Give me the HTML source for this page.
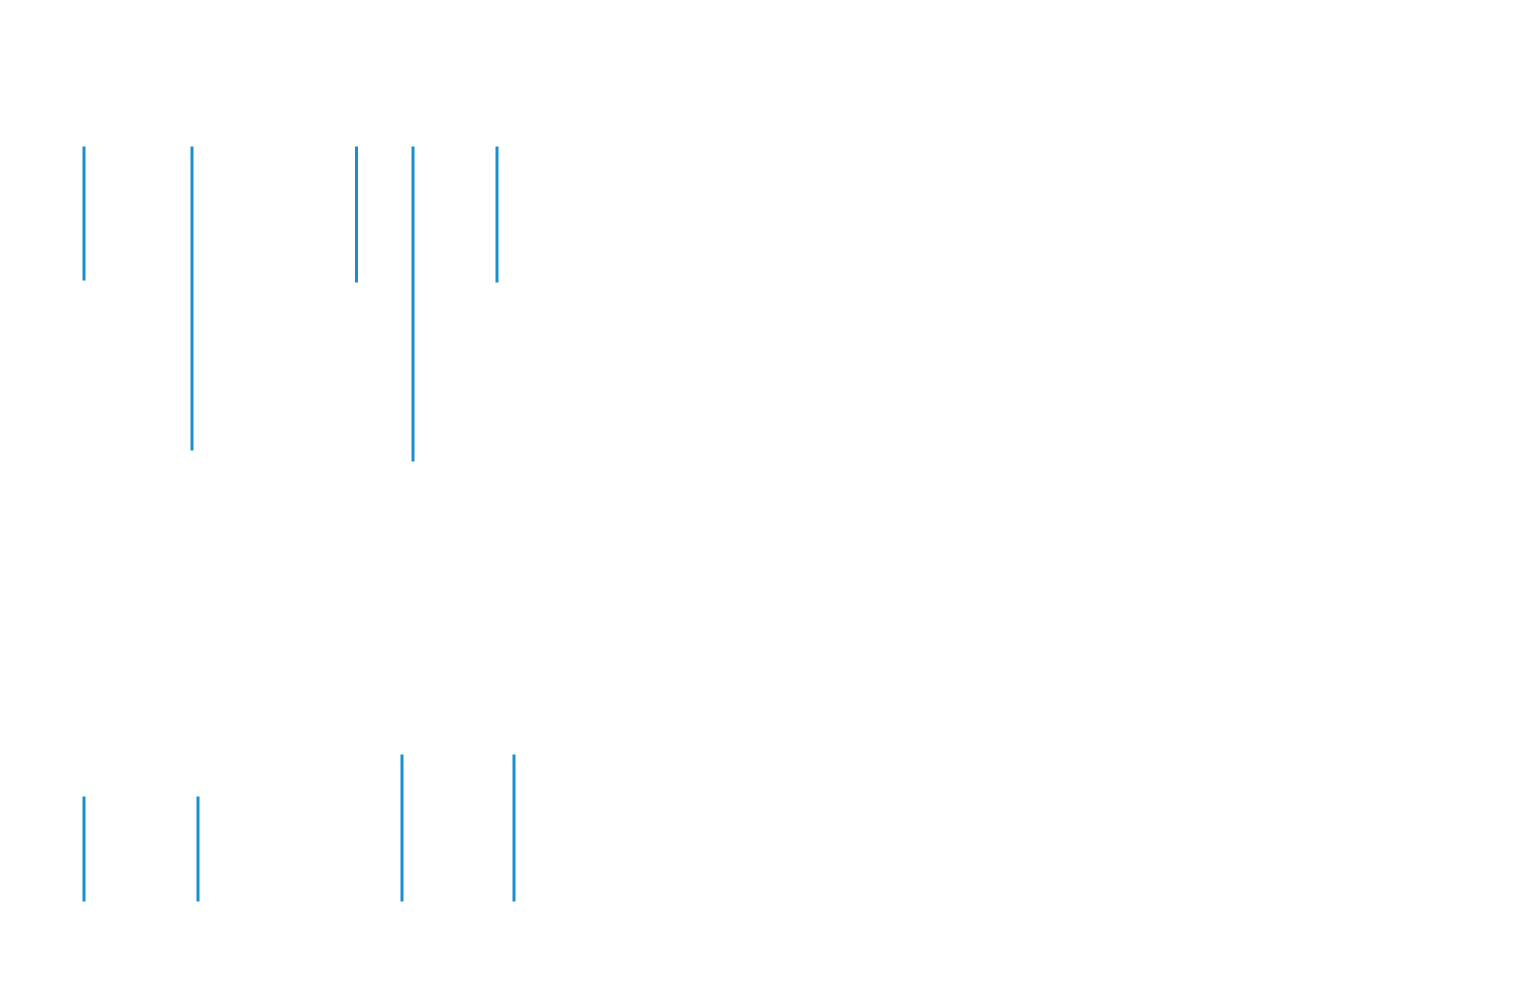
<!DOCTYPE html>
<html><head><meta charset="utf-8"><style>html,body{margin:0;padding:0;background:#fff;width:1516px;height:1001px;overflow:hidden}</style></head>
<body>
<svg width="1516" height="1001" xmlns="http://www.w3.org/2000/svg">
<g stroke="#1a8fd0" stroke-width="3" stroke-linecap="square">
<line x1="84" y1="148" x2="84" y2="279"/>
<line x1="192" y1="148" x2="192" y2="449"/>
<line x1="356.5" y1="148" x2="356.5" y2="281"/>
<line x1="413" y1="148" x2="413" y2="460"/>
<line x1="497" y1="148" x2="497" y2="281"/>
<line x1="84" y1="798" x2="84" y2="900"/>
<line x1="198" y1="798" x2="198" y2="900"/>
<line x1="402" y1="756" x2="402" y2="900"/>
<line x1="514" y1="756" x2="514" y2="900"/>
</g>
</svg>
</body></html>
